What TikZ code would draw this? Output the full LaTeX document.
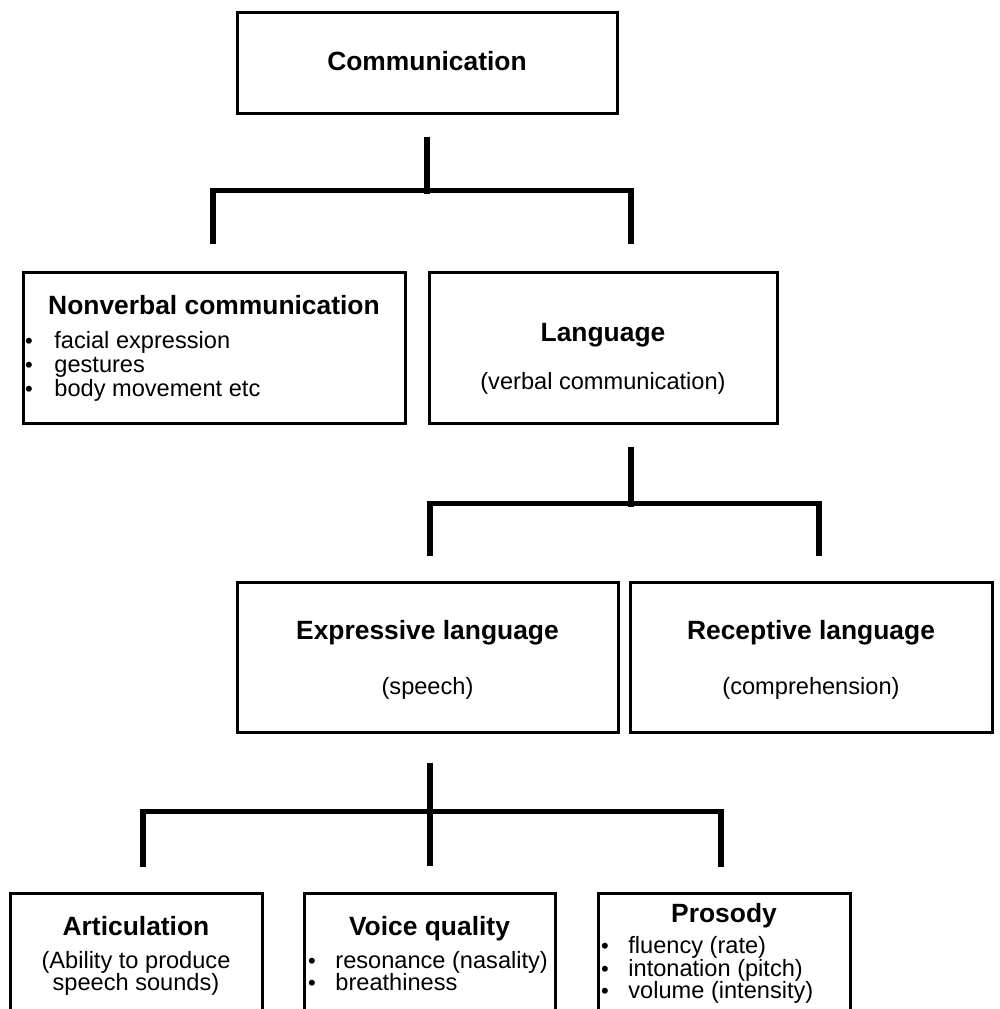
\documentclass[tikz,border=0pt]{standalone}
\usepackage{fontspec}
\setmainfont{Liberation Sans}
\usetikzlibrary{calc}
\tikzset{
  box/.style={draw=black, line width=1.5pt, rectangle, inner sep=0pt, fill=none},
  conn/.style={draw=black, line width=2.9pt, line join=miter, line cap=butt},
  ttl/.style={font=\fontsize{13.2}{15}\selectfont\bfseries, inner sep=0pt, text height=0.75em, text depth=0.25em},
  txt/.style={font=\fontsize{11.8}{13}\selectfont, inner sep=0pt, text height=0.75em, text depth=0.25em},
  bul/.style={font=\fontsize{11}{12}\selectfont, inner sep=0pt}
}
\begin{document}
\begin{tikzpicture}[x=0.5pt, y=-0.5pt]
\useasboundingbox (0,0) rectangle (1000,1009);
\fill[white] (0,0) rectangle (1000,1009);

% boxes
\node[box, minimum width=190pt, minimum height=50.5pt] (comm) at (427,62.5) {};
\node[box, minimum width=191pt, minimum height=75.5pt] (nonv) at (214,347.5) {};
\node[box, minimum width=174pt, minimum height=75.5pt] (lang) at (603,347.5) {};
\node[box, minimum width=190.5pt, minimum height=75pt] (expr) at (427.5,657) {};
\node[box, minimum width=181pt, minimum height=75pt] (rec) at (811,657) {};
\begin{scope}
\clip (0,0) rectangle (1000,1009);
\node[box, minimum width=126pt, minimum height=73.5pt] (artic) at (136,966.5) {};
\node[box, minimum width=125.5pt, minimum height=73.5pt] (voice) at (429.5,966.5) {};
\node[box, minimum width=126pt, minimum height=73.5pt] (pros) at (724,966.5) {};
\end{scope}

% texts
\node[ttl] (tcomm) at (427,65) {Communication};

\node[ttl] (tnonv) at (214,309) {Nonverbal communication};
\node[bul] (bn1) at (29,343) {\textbullet};
\node[bul] (bn2) at (29,367) {\textbullet};
\node[bul] (bn3) at (29,391) {\textbullet};
\node[txt, anchor=west] (n1) at (54,343) {facial expression};
\node[txt, anchor=west] (n2) at (54,367) {gestures};
\node[txt, anchor=west] (n3) at (54,391) {body movement etc};

\node[ttl] (tlang) at (603,336) {Language};
\node[txt] (slang) at (603,384) {(verbal communication)};

\node[ttl] (texpr) at (427.5,634) {Expressive language};
\node[txt] (sexpr) at (427.5,689) {(speech)};
\node[ttl] (trec) at (811,634) {Receptive language};
\node[txt] (srec) at (811,689) {(comprehension)};

\node[ttl] (tartic) at (136,930) {Articulation};
\node[txt] (a1) at (136,963) {(Ability to produce};
\node[txt] (a2) at (136,985) {speech sounds)};

\node[ttl] (tvoice) at (429.5,930) {Voice quality};
\node[bul] (bv1) at (312,963) {\textbullet};
\node[bul] (bv2) at (312,985) {\textbullet};
\node[txt, anchor=west] (v1) at (335,963) {resonance (nasality)};
\node[txt, anchor=west] (v2) at (335,985) {breathiness};

\node[ttl] (tpros) at (724,917) {Prosody};
\node[bul] (bp1) at (605,948) {\textbullet};
\node[bul] (bp2) at (605,971) {\textbullet};
\node[bul] (bp3) at (605,993) {\textbullet};
\node[txt, anchor=west] (p1) at (628,948) {fluency (rate)};
\node[txt, anchor=west] (p2) at (628,971) {intonation (pitch)};
\node[txt, anchor=west] (p3) at (628,993) {volume (intensity)};

% connectors
\draw[conn] ($(comm.south)+(0,22)$) -- ($(comm.south)+(0,79)$);
\draw[conn] ($(nonv.north)+(-1,-27)$) |- ($(lang.north)+(28,-80)$) -- ($(lang.north)+(28,-27)$);

\draw[conn] ($(lang.south)+(28,22)$) -- ($(lang.south)+(28,82)$);
\draw[conn] ($(expr.north)+(2.5,-25)$) |- ($(rec.north)+(8,-77)$) -- ($(rec.north)+(8,-25)$);

\draw[conn] ($(expr.south)+(2.5,29)$) -- ($(voice.north)+(0.5,-26)$);
\draw[conn] ($(artic.north)+(7,-25)$) |- ($(pros.north)+(-3,-80)$) -- ($(pros.north)+(-3,-25)$);
\end{tikzpicture}
\end{document}
